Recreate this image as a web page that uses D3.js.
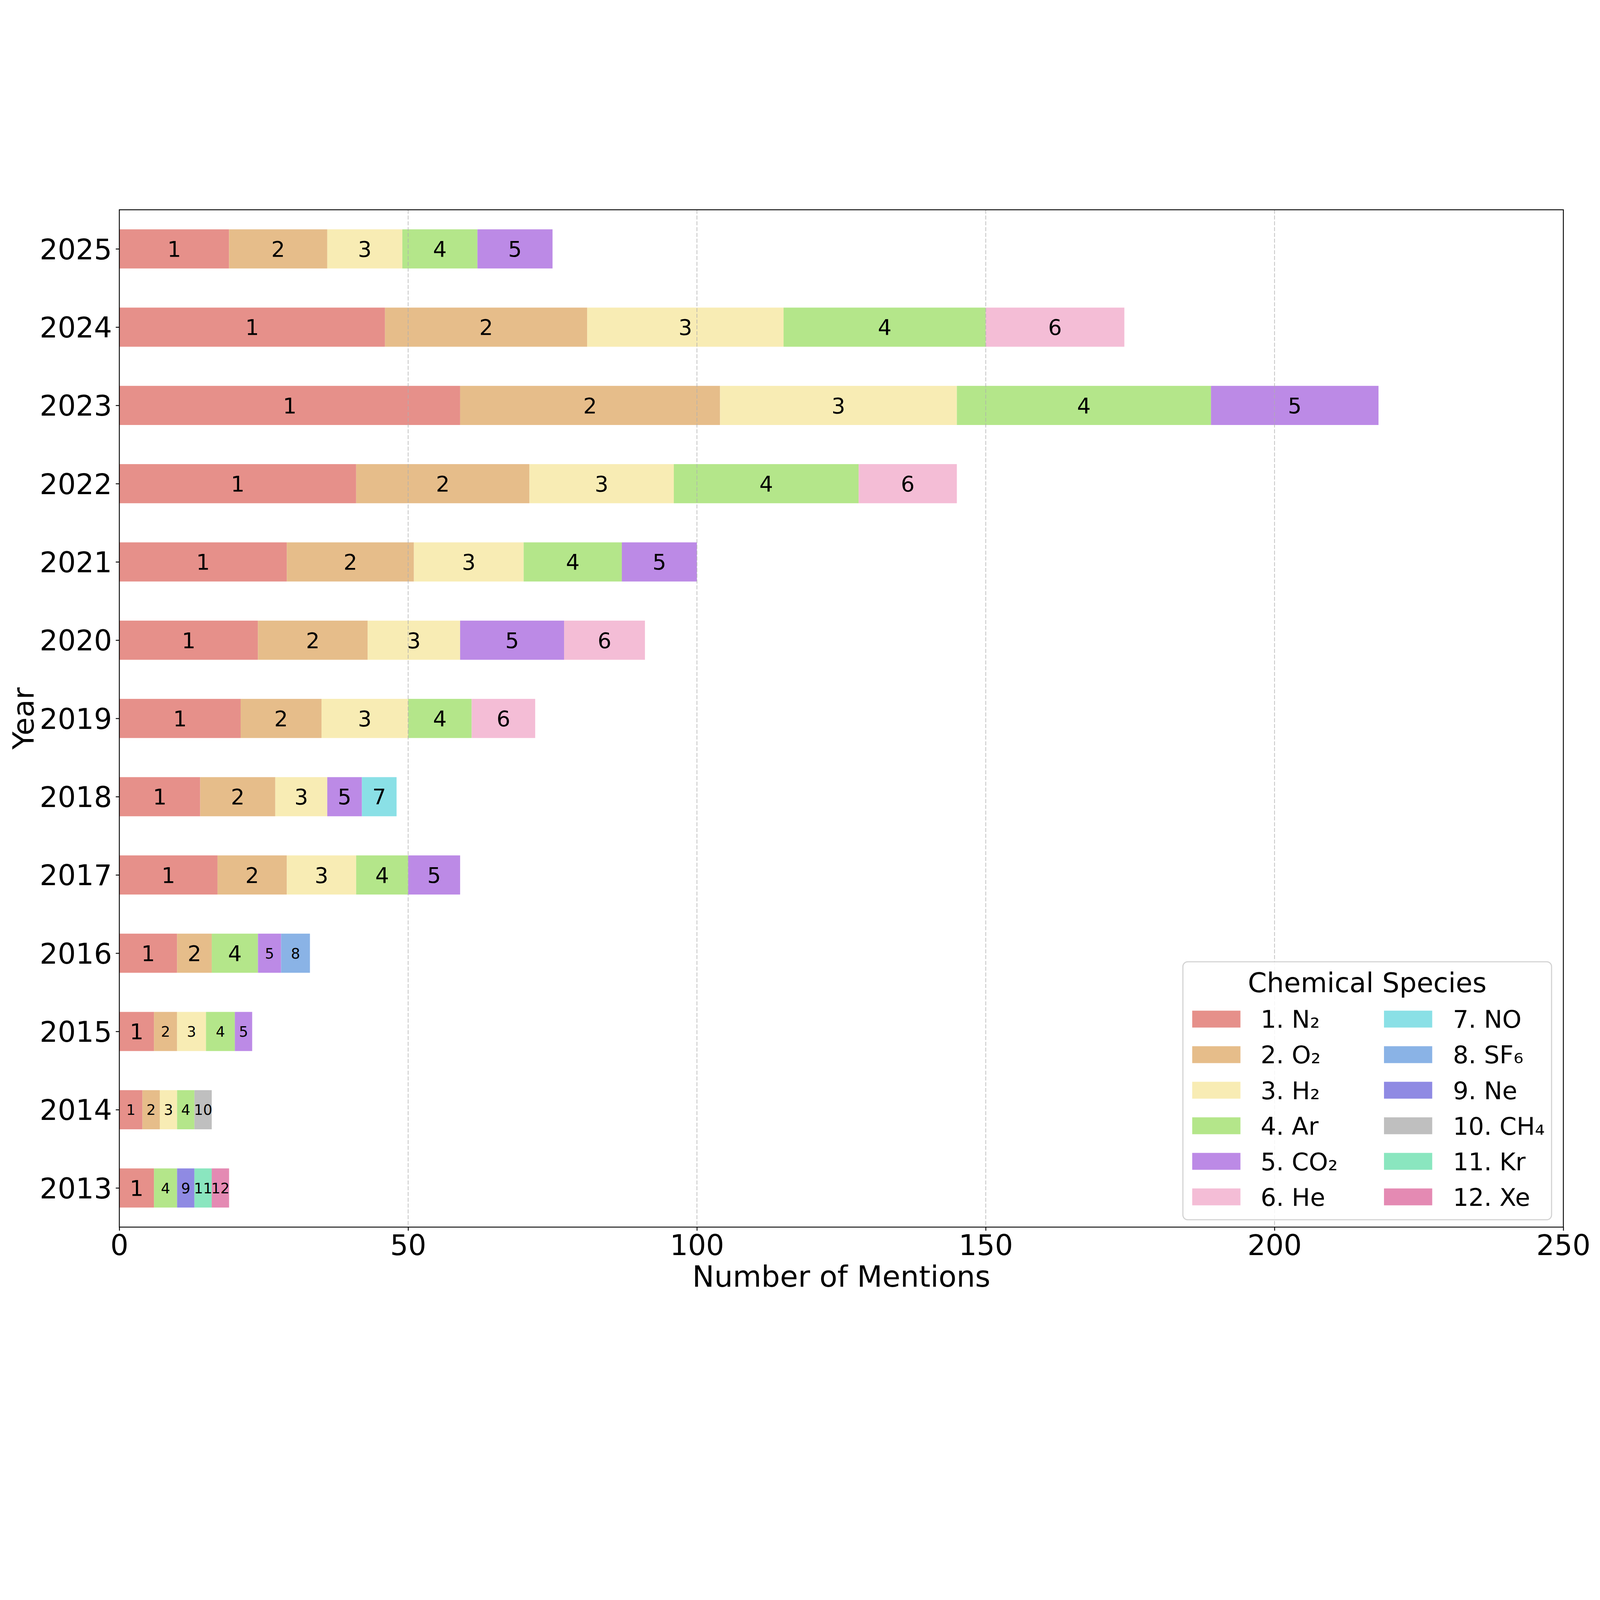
<!DOCTYPE html>
<html>
<head>
<meta charset="utf-8">
<script src="https://cdn.jsdelivr.net/npm/d3@7"></script>
<style>
  html, body { margin: 0; padding: 0; background: #fff; overflow: hidden; }
  svg { display: block; }
  text { font-family: "DejaVu Sans", sans-serif; }
</style>
</head>
<body>
<svg id="chart"></svg>
<script>
// data (years bottom to top)
var years = ["2013", "2014", "2015", "2016", "2017", "2018", "2019", "2020", "2021", "2022", "2023", "2024", "2025"];
var species = ["1. N₂", "2. O₂", "3. H₂", "4. Ar", "5. CO₂", "6. He", "7. NO", "8. SF₆", "9. Ne", "10. CH₄", "11. Kr", "12. Xe"];
var speciesColors = ["#e6908a", "#e6bd8a", "#f8ecb4", "#b4e68a", "#bc8ae6", "#f4bdd6",
                     "#8ae0e6", "#8ab3e6", "#8f8ae3", "#bfbfbf", "#8ae6bf", "#e48ab3"];

var n2  = [6, 4, 6, 10, 17, 14, 21, 24, 29, 41, 59, 46, 19];
var o2  = [0, 3, 4, 6, 12, 13, 14, 19, 22, 30, 45, 35, 17];
var h2  = [0, 3, 5, 0, 12, 9, 15, 16, 19, 25, 41, 34, 13];
var ar  = [4, 3, 5, 8, 9, 0, 11, 0, 17, 32, 44, 35, 13];
var co2 = [0, 0, 3, 4, 9, 6, 0, 18, 13, 0, 29, 0, 13];
var he  = [0, 0, 0, 0, 0, 0, 11, 14, 0, 17, 0, 24, 0];
var no  = [0, 0, 0, 0, 0, 6, 0, 0, 0, 0, 0, 0, 0];
var sf6 = [0, 0, 0, 5, 0, 0, 0, 0, 0, 0, 0, 0, 0];
var ne  = [3, 0, 0, 0, 0, 0, 0, 0, 0, 0, 0, 0, 0];
var ch4 = [0, 3, 0, 0, 0, 0, 0, 0, 0, 0, 0, 0, 0];
var kr  = [3, 0, 0, 0, 0, 0, 0, 0, 0, 0, 0, 0, 0];
var xe  = [3, 0, 0, 0, 0, 0, 0, 0, 0, 0, 0, 0, 0];
var series = [n2, o2, h2, ar, co2, he, no, sf6, ne, ch4, kr, xe];

var xTicks = [0, 50, 100, 150, 200, 250];

// plot box in pixels (note: "top" is taken by window.top, so prefix them)
var plotL = 537, plotR = 7035, plotT = 44, plotB = 4622;

// draw in a 7200x5400 space and let the viewBox fit it to whatever window we get
var svg = d3.select("#chart")
  .attr("viewBox", "0 0 7200 5400")
  .attr("width", window.innerWidth)
  .attr("height", window.innerHeight);
svg.append("rect").attr("width", 7200).attr("height", 5400).attr("fill", "#fff");

var x = d3.scaleLinear().domain([0, 250]).range([plotL, plotR]);
var y = d3.scaleLinear().domain([-0.5, years.length - 0.5]).range([plotB, plotT]);

// table for the stack: one row per year
var rows = years.map(function(yr, i) {
  var r = { year: yr, idx: i };
  species.forEach(function(s, k) { r[k] = series[k][i]; });
  return r;
});
var stack = d3.stack().keys(d3.range(species.length))(rows);

var barH = y(0) - y(0.5);

var g = svg.append("g");
stack.forEach(function(layer, k) {
  var segs = layer.filter(function(d) { return d[1] - d[0] > 0; });
  g.selectAll(null)
    .data(segs)
    .join("rect")
    .attr("x", function(d) { return x(d[0]); })
    .attr("width", function(d) { return x(d[1]) - x(d[0]); })
    .attr("y", function(d) { return y(d.data.idx) - barH / 2; })
    .attr("height", barH)
    .attr("fill", speciesColors[k]);

  // segment number in the middle, smaller when the segment is thin
  g.selectAll(null)
    .data(segs)
    .join("text")
    .attr("x", function(d) { return x((d[0] + d[1]) / 2); })
    .attr("y", function(d) { return y(d.data.idx); })
    .attr("dy", "0.36em")
    .attr("text-anchor", "middle")
    .attr("font-size", function(d) { return (d[1] - d[0]) >= 6 ? 97 : 65; })
    .attr("fill", "#000")
    .text(k + 1);
});

// dashed vertical grid, drawn over the bars like the see-through original
svg.append("g")
  .selectAll("line")
  .data(xTicks.slice(1, -1))
  .join("line")
  .attr("x1", function(d) { return x(d); })
  .attr("x2", function(d) { return x(d); })
  .attr("y1", plotT)
  .attr("y2", plotB)
  .attr("stroke", "#b0b0b0")
  .attr("stroke-width", 3.5)
  .attr("stroke-dasharray", "18,8")
  .attr("opacity", 0.75);

// axes
var xAxis = svg.append("g")
  .attr("transform", "translate(0," + plotB + ")")
  .call(d3.axisBottom(x).tickValues(xTicks).tickSize(16).tickFormat(d3.format("d")));
xAxis.select(".domain").remove();
xAxis.selectAll("line").attr("stroke", "#000").attr("stroke-width", 4);
xAxis.selectAll("text")
  .attr("y", 125).attr("dy", 0)
  .attr("font-size", 128).attr("fill", "#000")
  .attr("font-family", "DejaVu Sans");

var yAxis = svg.append("g")
  .attr("transform", "translate(" + plotL + ",0)")
  .call(d3.axisLeft(y).tickValues(d3.range(years.length)).tickSize(16)
    .tickFormat(function(i) { return years[i]; }));
yAxis.select(".domain").remove();
yAxis.selectAll("line").attr("stroke", "#000").attr("stroke-width", 4);
yAxis.selectAll("text")
  .attr("x", -33).attr("dy", "0.36em")
  .attr("font-size", 128).attr("fill", "#000")
  .attr("font-family", "DejaVu Sans");

// frame
svg.append("rect")
  .attr("x", plotL).attr("y", plotT)
  .attr("width", plotR - plotL).attr("height", plotB - plotT)
  .attr("fill", "none").attr("stroke", "#000").attr("stroke-width", 4);

// axis titles
svg.append("text")
  .attr("x", (plotL + plotR) / 2).attr("y", 4890)
  .attr("text-anchor", "middle").attr("font-size", 132)
  .text("Number of Mentions");

svg.append("text")
  .attr("transform", "translate(151," + ((plotT + plotB) / 2) + ") rotate(-90)")
  .attr("text-anchor", "middle").attr("font-size", 132)
  .text("Year");

// legend, two columns of six
var lg = svg.append("g");
lg.append("rect")
  .attr("x", 5323).attr("y", 3428)
  .attr("width", 6982 - 5323).attr("height", 4589 - 3428)
  .attr("rx", 22)
  .attr("fill", "#fff").attr("fill-opacity", 0.85)
  .attr("stroke", "#d2d2d2").attr("stroke-width", 5);

lg.append("text")
  .attr("x", (5323 + 6982) / 2).attr("y", 3565)
  .attr("text-anchor", "middle").attr("font-size", 122)
  .text("Chemical Species");

var colX = [5365, 6228];
var textX = [5673, 6538];
var item = lg.selectAll("g.item")
  .data(species)
  .join("g")
  .attr("class", "item")
  .attr("transform", function(d, i) {
    return "translate(0," + (3686 + (i % 6) * 160) + ")";
  });
item.append("rect")
  .attr("x", function(d, i) { return colX[Math.floor(i / 6)]; })
  .attr("y", -38)
  .attr("width", 217).attr("height", 76)
  .attr("fill", function(d, i) { return speciesColors[i]; });
item.append("text")
  .attr("x", function(d, i) { return textX[Math.floor(i / 6)]; })
  .attr("dy", "0.36em")
  .attr("font-size", 110)
  .text(function(d) { return d; });
</script>
</body>
</html>
